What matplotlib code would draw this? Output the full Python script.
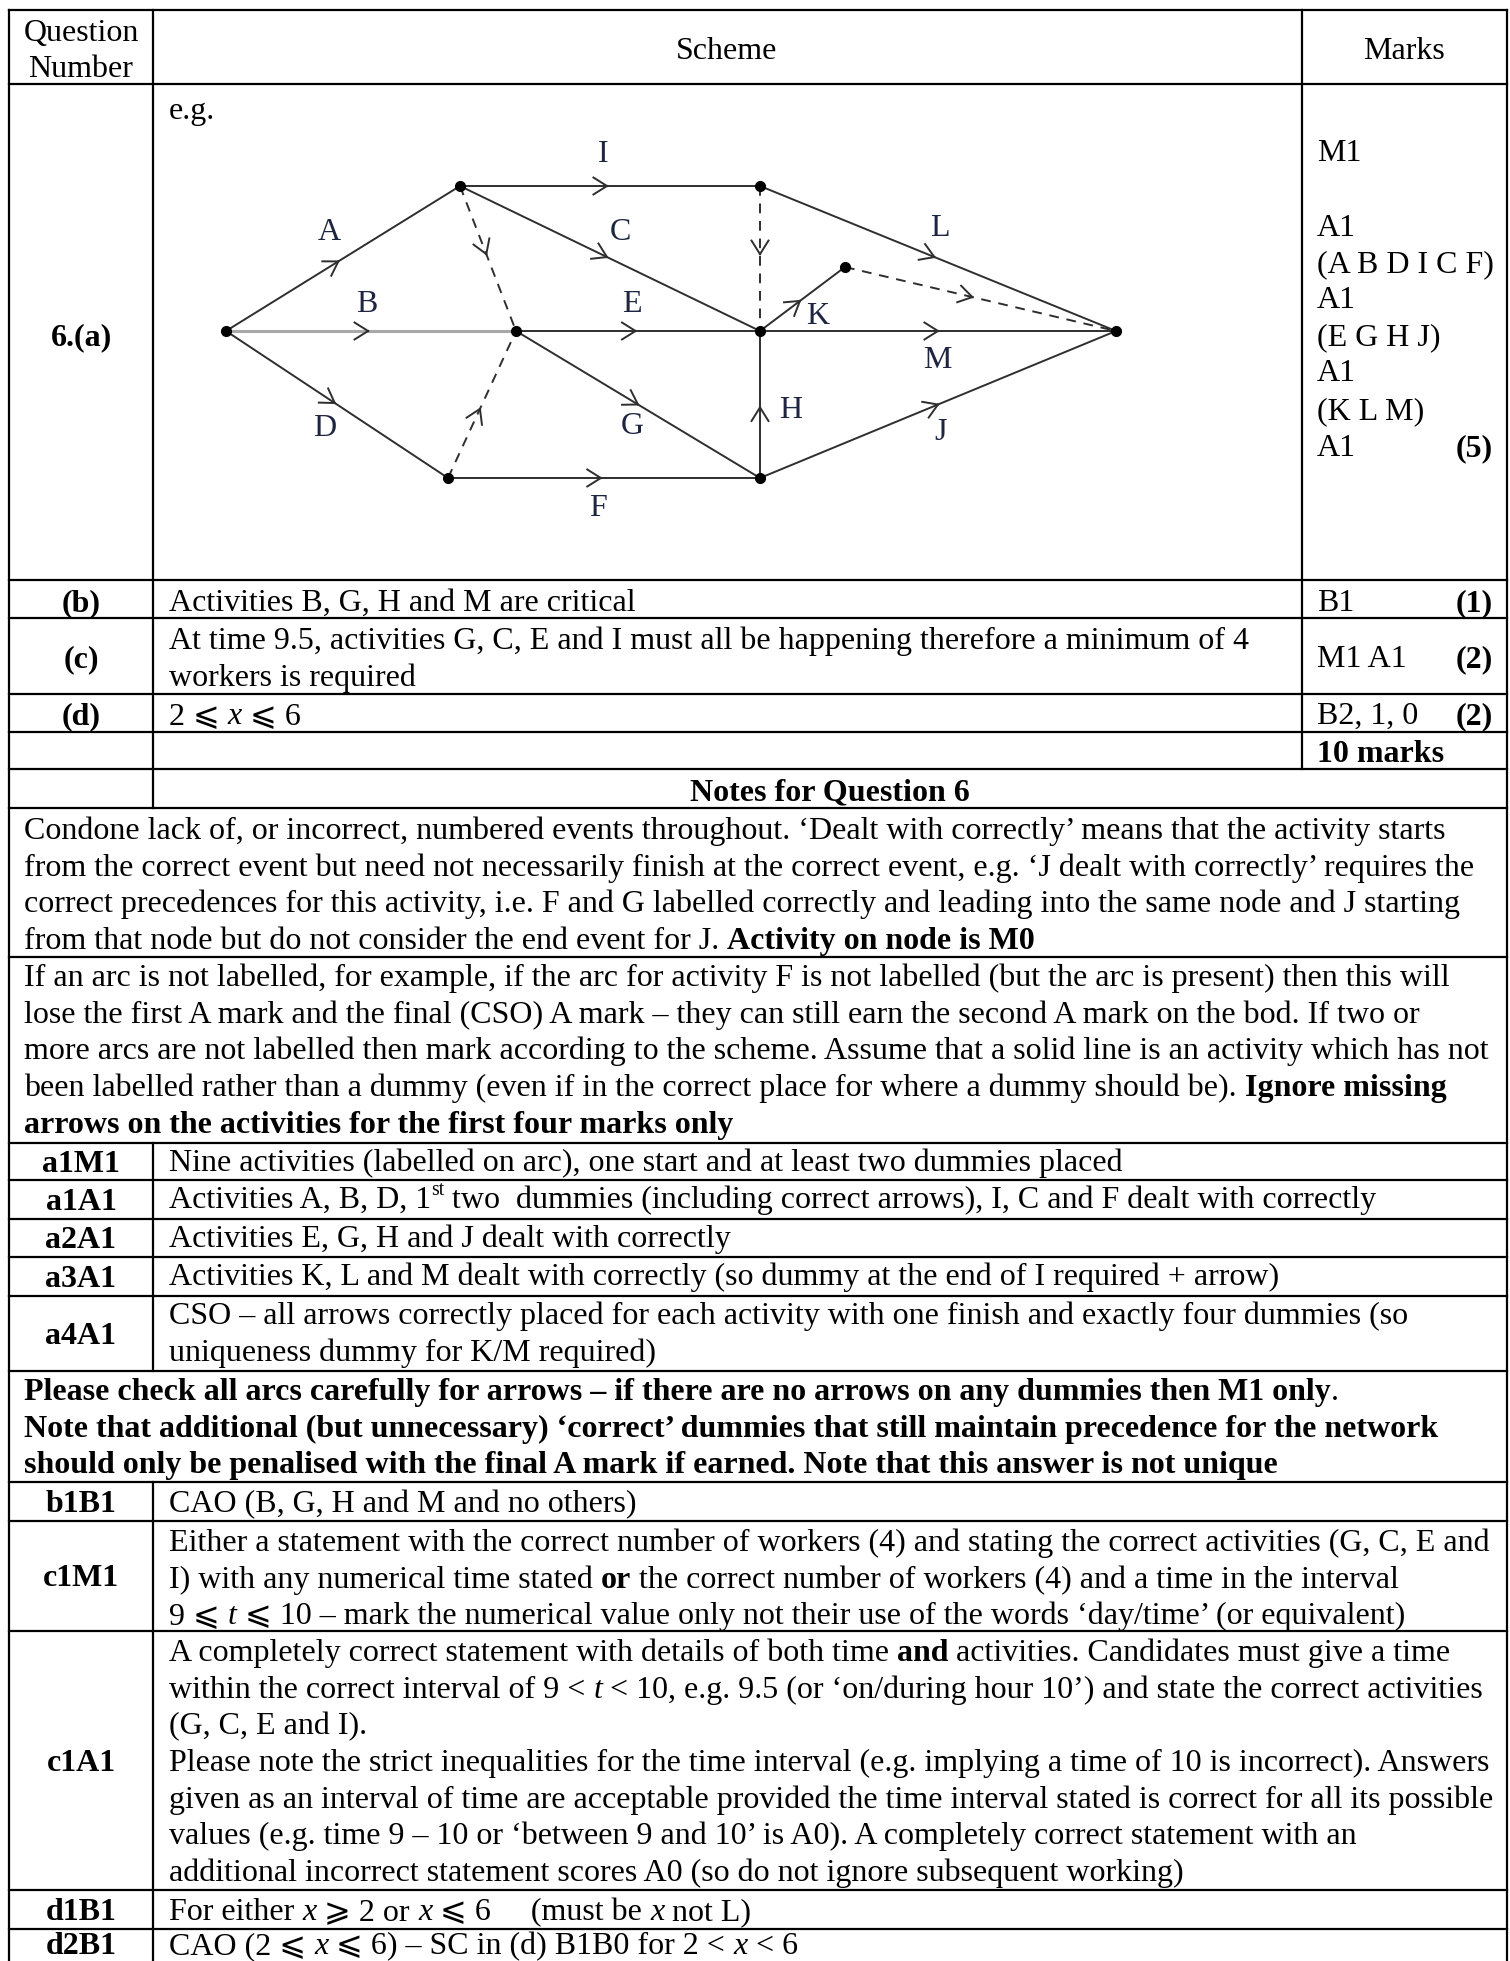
import matplotlib
matplotlib.use('Agg')
import matplotlib.pyplot as plt
from matplotlib.font_manager import FontProperties
import numpy as np

W, H = 1510, 1961
FS = 23
SERIF = ['Liberation Serif', 'DejaVu Serif', 'DejaVu Sans']

# network diagram: node layout and activities (from, to, label, kind)
NODE_X = {'S': 226, 'n1': 460, 'n2': 516, 'n3': 448, 'n4': 760, 'n5': 760, 'n6': 760, 'n7': 845, 'T': 1116}
NODE_Y = {'S': 331, 'n1': 186, 'n2': 331, 'n3': 478, 'n4': 186, 'n5': 331, 'n6': 478, 'n7': 267, 'T': 331}
ARCS = [
    ('S', 'n1', 'A', 'solid'), ('S', 'n2', 'B', 'light'), ('S', 'n3', 'D', 'solid'),
    ('n1', 'n4', 'I', 'solid'), ('n1', 'n5', 'C', 'solid'), ('n1', 'n2', '', 'dummy'),
    ('n2', 'n5', 'E', 'solid'), ('n2', 'n6', 'G', 'solid'), ('n3', 'n2', '', 'dummy'),
    ('n3', 'n6', 'F', 'solid'), ('n4', 'n5', '', 'dummy'), ('n6', 'n5', 'H', 'solid'),
    ('n5', 'n7', 'K', 'solid'), ('n7', 'T', '', 'dummy'), ('n4', 'T', 'L', 'solid'),
    ('n5', 'T', 'M', 'solid'), ('n6', 'T', 'J', 'solid'),
]
ARROW_AT = {'A': 0.48, 'B': 0.49, 'D': 0.49, 'I': 0.49, 'C': 0.49, 'E': 0.49, 'G': 0.5, 'F': 0.49,
            'H': 0.48, 'K': 0.47, 'L': 0.49, 'M': 0.5, 'J': 0.5, '': 0.47}
LABEL_POS = {'A': (329, 233), 'B': (367, 305), 'D': (325, 429), 'I': (603, 155), 'C': (620, 233),
             'E': (632, 305), 'G': (632, 427), 'F': (598, 508), 'H': (791, 411), 'K': (818, 316),
             'L': (940, 228), 'M': (937, 360), 'J': (941, 432)}

MARKS_A = [('M1', 151), ('A1', 226), ('(A B D I C F)', 262), ('A1', 298), ('(E G H J)', 335),
           ('A1', 371), ('(K L M)', 409), ('A1', 446)]

NOTES_1 = [
    "Condone lack of, or incorrect, numbered events throughout. \u2018Dealt with correctly\u2019 means that the activity starts",
    "from the correct event but need not necessarily finish at the correct event, e.g. \u2018J dealt with correctly\u2019 requires the",
    "correct precedences for this activity, i.e. F and G labelled correctly and leading into the same node and J starting",
    [("from that node but do not consider the end event for J. ", ''), ("Activity on node is M0", 'b')],
]
NOTES_2 = [
    "If an arc is not labelled, for example, if the arc for activity F is not labelled (but the arc is present) then this will",
    "lose the first A mark and the final (CSO) A mark \u2013 they can still earn the second A mark on the bod. If two or",
    "more arcs are not labelled then mark according to the scheme. Assume that a solid line is an activity which has not",
    [("been labelled rather than a dummy (even if in the correct place for where a dummy should be). ", ''), ("Ignore missing", 'b')],
    [("arrows on the activities for the first four marks only", 'b')],
]
NOTES_3 = [
    [("Please check all arcs carefully for arrows \u2013 if there are no arrows on any dummies then M1 only", 'b'), (".", '')],
    [("Note that additional (but unnecessary) \u2018correct\u2019 dummies that still maintain precedence for the network", 'b')],
    [("should only be penalised with the final A mark if earned. Note that this answer is not unique", 'b')],
]
GUIDANCE_A = [
    ('a1M1', ["Nine activities (labelled on arc), one start and at least two dummies placed"]),
    ('a1A1', [[("Activities A, B, D, 1", ''), ("st", 'sup'), (" two  dummies (including correct arrows), I, C and F dealt with correctly", '')]]),
    ('a2A1', ["Activities E, G, H and J dealt with correctly"]),
    ('a3A1', ["Activities K, L and M dealt with correctly (so dummy at the end of I required + arrow)"]),
    ('a4A1', ["CSO \u2013 all arrows correctly placed for each activity with one finish and exactly four dummies (so",
              "uniqueness dummy for K/M required)"]),
]
GUIDANCE_B = [
    ('b1B1', ["CAO (B, G, H and M and no others)"]),
    ('c1M1', ["Either a statement with the correct number of workers (4) and stating the correct activities (G, C, E and",
              [("I) with any numerical time stated ", ''), ("or", 'b'), (" the correct number of workers (4) and a time in the interval", '')],
              [("9 \u2a7d ", ''), ("t", 'i'), (" \u2a7d 10 \u2013 mark the numerical value only not their use of the words \u2018day/time\u2019 (or equivalent)", '')]]),
    ('c1A1', [[("A completely correct statement with details of both time ", ''), ("and", 'b'), (" activities. Candidates must give a time", '')],
              [("within the correct interval of 9 < ", ''), ("t", 'i'), (" < 10, e.g. 9.5 (or \u2018on/during hour 10\u2019) and state the correct activities", '')],
              "(G, C, E and I).",
              "Please note the strict inequalities for the time interval (e.g. implying a time of 10 is incorrect). Answers",
              "given as an interval of time are acceptable provided the time interval stated is correct for all its possible",
              "values (e.g. time 9 \u2013 10 or \u2018between 9 and 10\u2019 is A0). A completely correct statement with an",
              "additional incorrect statement scores A0 (so do not ignore subsequent working)"]),
    ('d1B1', [[("For either ", ''), ("x", 'i'), (" \u2a7e 2 or ", ''), ("x", 'i'), (" \u2a7d 6     (must be ", ''), ("x", 'i'), (" not L)", '')]]),
    ('d2B1', [[("CAO (2 \u2a7d ", ''), ("x", 'i'), (" \u2a7d 6) \u2013 SC in (d) B1B0 for 2 < ", ''), ("x", 'i'), (" < 6", '')]]),
]

fig = plt.figure(figsize=(W / 100, H / 100), dpi=100)
ax = fig.add_axes([0, 0, 1, 1])
ax.set_xlim(0, W)
ax.set_ylim(H, 0)
ax.axis('off')
renderer = fig.canvas.get_renderer()


def fprop(style='', size=FS):
    return FontProperties(family=SERIF, size=size,
                          weight='bold' if 'b' in style else 'normal',
                          style='italic' if 'i' in style else 'normal')


def text_width(s, prop):
    w1, _, _ = renderer.get_text_width_height_descent('H' + s + 'H', prop, ismath=False)
    w0, _, _ = renderer.get_text_width_height_descent('HH', prop, ismath=False)
    return w1 - w0


def draw_line(x, y, parts, ha='left', size=FS, color='black'):
    """Draw one line of mixed bold/italic/superscript text centred on y."""
    if isinstance(parts, str):
        parts = [(parts, '')]
    segs = []
    total = 0
    for s, st in parts:
        p = fprop('', size * 0.62) if st == 'sup' else fprop(st, size)
        w = text_width(s, p)
        segs.append((s, st, p, w))
        total += w
    if ha == 'center':
        x -= total / 2
    elif ha == 'right':
        x -= total
    em = size * 100 / 72
    base = min(y + 0.32 * em, H - 7)
    for s, st, p, w in segs:
        lead = len(s) - len(s.lstrip(' '))
        dx = text_width(' ' * lead, p) if lead else 0
        dy = -0.42 * em if st == 'sup' else 0
        if s.strip():
            ax.text(x + dx, base + dy, s.strip(' '), fontproperties=p, va='baseline', ha='left', color=color)
        x += w


# table grid
LW = 1.6
X0, X1, XC, XM = 9, 1507, 153, 1302
for y in [10, 84, 580, 618, 694, 732, 769, 808, 957, 1143, 1180, 1219, 1257, 1296, 1371, 1482, 1521, 1631, 1890, 1929]:
    ax.plot([X0, X1], [y, y], color='black', lw=LW, solid_capstyle='projecting')
for x, y0, y1 in [(X0, 10, H), (X1, 10, H), (XC, 10, 808), (XC, 1143, 1371), (XC, 1482, H), (XM, 10, 769)]:
    ax.plot([x, x], [y0, y1], color='black', lw=LW, solid_capstyle='projecting')

# header
draw_line(81, 31, "Question", ha='center')
draw_line(81, 67, "Number", ha='center')
draw_line(727, 49, "Scheme", ha='center')
draw_line(1404, 49, "Marks", ha='center')

# part (a) network
draw_line(81, 335, [("6.(a)", 'b')], ha='center')
draw_line(169, 109, "e.g.")
dark = '#2e2e2e'
for a, b, lab, kind in ARCS:
    p0 = np.array([NODE_X[a], NODE_Y[a]], float)
    p1 = np.array([NODE_X[b], NODE_Y[b]], float)
    if kind == 'dummy':
        ax.plot([p0[0], p1[0]], [p0[1], p1[1]], color=dark, lw=1.4, ls=(0, (5, 4)))
    elif kind == 'light':
        ax.plot([p0[0], p1[0]], [p0[1], p1[1]], color='#a8a8a8', lw=2.2)
    else:
        ax.plot([p0[0], p1[0]], [p0[1], p1[1]], color=dark, lw=1.4)
    d = (p1 - p0) / np.hypot(*(p1 - p0))
    tip = p0 + ARROW_AT[lab] * (p1 - p0)
    for ang in (np.radians(32), -np.radians(32)):
        rot = np.array([[np.cos(ang), -np.sin(ang)], [np.sin(ang), np.cos(ang)]])
        arm = tip - 16 * rot @ d
        ax.plot([tip[0], arm[0]], [tip[1], arm[1]], color=dark, lw=1.4)
    if lab:
        lx, ly = LABEL_POS[lab]
        ax.text(lx, ly, lab, fontproperties=fprop('', 23), ha='center', va='center', color='#1e2540')
ax.plot(list(NODE_X.values()), list(NODE_Y.values()), 'o', color='black', ms=7, ls='none')

for s, y in MARKS_A:
    draw_line(1317, y, s)
draw_line(1493, 446, [("(5)", 'b')], ha='right')

# parts (b)-(d)
draw_line(81, 601, [("(b)", 'b')], ha='center')
draw_line(169, 601, "Activities B, G, H and M are critical")
draw_line(1317, 601, "B1")
draw_line(1493, 601, [("(1)", 'b')], ha='right')
draw_line(81, 657, [("(c)", 'b')], ha='center')
draw_line(169, 639, "At time 9.5, activities G, C, E and I must all be happening therefore a minimum of 4")
draw_line(169, 676, "workers is required")
draw_line(1317, 657, "M1 A1")
draw_line(1493, 657, [("(2)", 'b')], ha='right')
draw_line(81, 714, [("(d)", 'b')], ha='center')
draw_line(169, 714, [("2 \u2a7d ", ''), ("x", 'i'), (" \u2a7d 6", '')])
draw_line(1317, 714, "B2, 1, 0")
draw_line(1493, 714, [("(2)", 'b')], ha='right')
draw_line(1317, 752, [("10 marks", 'b')])
draw_line(830, 790, [("Notes for Question 6", 'b')], ha='center')

# notes
LINE = 36.6
for i, ln in enumerate(NOTES_1):
    draw_line(24, 829 + i * LINE, ln)
for i, ln in enumerate(NOTES_2):
    draw_line(24, 976 + i * LINE, ln)

row_top = [1143, 1180, 1219, 1257, 1296]
row_bot = [1180, 1219, 1257, 1296, 1371]
for (lab, lines), t, b in zip(GUIDANCE_A, row_top, row_bot):
    draw_line(81, (t + b) / 2, [(lab, 'b')], ha='center')
    for i, ln in enumerate(lines):
        draw_line(169, t + 18 + i * LINE, ln)

for i, ln in enumerate(NOTES_3):
    draw_line(24, 1390 + i * LINE, ln)

row_top = [1482, 1521, 1631, 1890, 1929]
row_bot = [1521, 1631, 1890, 1929, 1968]
for (lab, lines), t, b in zip(GUIDANCE_B, row_top, row_bot):
    draw_line(81, min((t + b) / 2, 1946), [(lab, 'b')], ha='center')
    for i, ln in enumerate(lines):
        draw_line(169, t + 20 + i * LINE, ln)

fig.savefig('out.png', dpi=100, facecolor='white')
